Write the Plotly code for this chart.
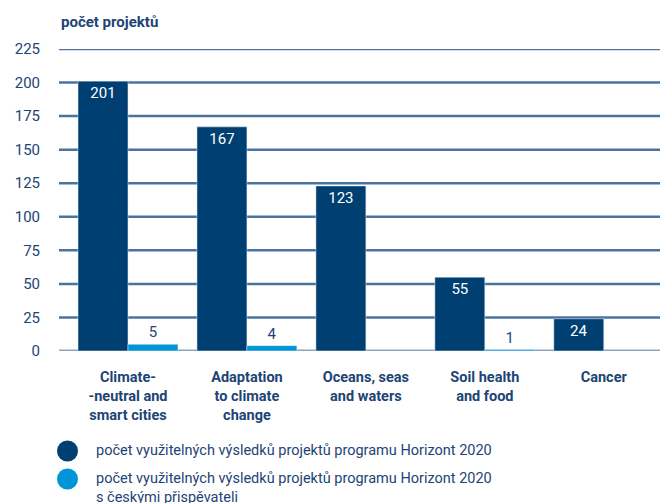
import plotly.graph_objects as go

# data
categories = ["<b>Climate-<br>-neutral and<br>smart cities</b>",
              "<b>Adaptation<br>to climate<br>change</b>",
              "<b>Oceans, seas<br>and waters</b>",
              "<b>Soil health<br>and food</b>",
              "<b>Cancer</b>"]
all_projects = [201, 167, 123, 55, 24]
czech_projects = [5, 4, None, 1, None]
legend_names = ["počet využitelných výsledků projektů programu Horizont 2020",
                "počet využitelných výsledků projektů programu Horizont 2020<br>s českými přispěvateli"]
y_ticks = [0, 25, 50, 75, 100, 125, 150, 175, 200, 225]

dark = "#003f72"
light = "#0095d6"
text_col = "#1d4475"
font = "Roboto"

# page has an 8px body margin, so the figure is 8px smaller
W, H = 660, 495
L, T, B = 51, 41, 152
pw, ph = W - L, H - T - B

fig = go.Figure()
fig.add_trace(go.Bar(x=categories, y=all_projects, marker_color=dark,
                     text=all_projects, textposition="inside", insidetextanchor="end",
                     textfont=dict(color="white", size=15, family=font),
                     name=legend_names[0], showlegend=False))
fig.add_trace(go.Bar(x=categories, y=czech_projects, marker_color=light,
                     text=[str(v) if v is not None else "" for v in czech_projects],
                     textposition="outside", cliponaxis=False,
                     textfont=dict(color=text_col, size=15, family=font),
                     name=legend_names[1], showlegend=False))

fig.update_layout(
    width=W, height=H,
    margin=dict(l=L, r=0, t=T, b=B),
    plot_bgcolor="white", paper_bgcolor="white",
    barmode="group", bargap=0.16, bargroupgap=0,
    font=dict(family=font, color=text_col, size=14),
)
fig.update_xaxes(range=[-0.58, 4.54], showgrid=False, showline=False,
                 tickfont=dict(size=14.5, color=text_col, family=font),
                 ticks="outside", ticklen=13, tickcolor="rgba(0,0,0,0)")
fig.update_yaxes(range=[0, 225], tickvals=y_ticks, showgrid=False,
                 zeroline=False, ticklabelstandoff=18,
                 tickfont=dict(size=15, color=text_col, family=font))

# gridlines behind the bars
for t in y_ticks:
    fig.add_shape(type="line", xref="paper", yref="y", x0=0, x1=1, y0=t, y1=t,
                  line=dict(color="#8aa3bf" if t == 0 else "#4a74a0",
                            width=3 if t == 0 else 2.5),
                  layer="below")

# axis title
fig.add_annotation(text="<b>počet projektů</b>", xref="paper", yref="paper",
                   x=0.0, y=1.0, yshift=27, xanchor="left", yanchor="middle",
                   showarrow=False, font=dict(size=15, color=text_col, family=font))

# legend drawn manually with circle markers
for i, (name, col) in enumerate(zip(legend_names, [dark, light])):
    cy = 443 + 28 * i  # centre in figure pixels
    base = T + ph
    fig.add_shape(type="circle", xref="paper", yref="paper",
                  x0=(49 - L) / pw, x1=(70 - L) / pw,
                  y0=(base - cy - 10.5) / ph, y1=(base - cy + 10.5) / ph,
                  fillcolor=col, line_width=0)
    fig.add_annotation(text=name, xref="paper", yref="paper",
                       x=(86 - L) / pw, y=(base - cy) / ph,
                       xanchor="left", yanchor="top", yshift=11, align="left",
                       showarrow=False,
                       font=dict(size=14.5, color=text_col, family=font))

fig.write_html("out.html")
